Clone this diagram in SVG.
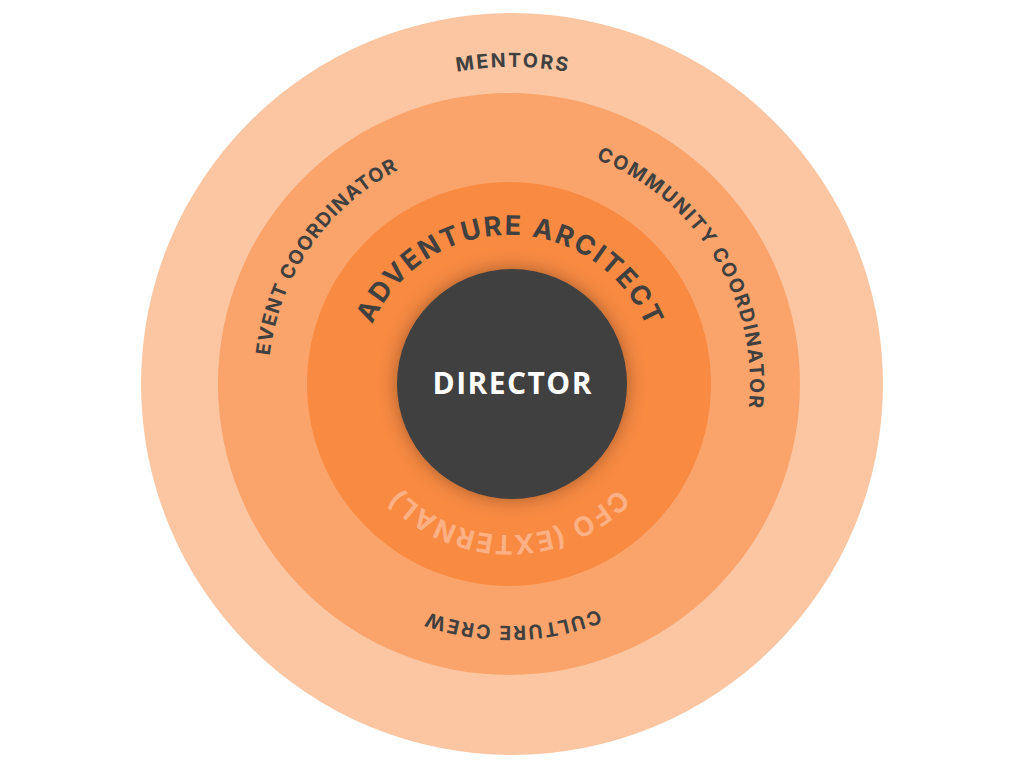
<svg xmlns="http://www.w3.org/2000/svg" xmlns:xlink="http://www.w3.org/1999/xlink" width="1024" height="768" viewBox="0 0 1024 768">
  <style>
    .lbl { font-family: Inter, "Open Sans", "Liberation Sans", sans-serif; font-weight: 700; fill: #404040; }
    .sm { font-size: 19.5px; }
    .lg { font-size: 27px; }
    .faint { fill: #FCB083; }
    .dir { font-family: "Open Sans", Inter, "Liberation Sans", sans-serif; font-weight: 700; font-size: 30px; fill: #FFFFFF; }
  </style>
  <defs>
    <filter id="shadow" x="-30%" y="-30%" width="160%" height="160%">
      <feDropShadow dx="0" dy="0" stdDeviation="9" flood-color="#000000" flood-opacity="0.35"/>
    </filter>
    <path id="pMentors" d="M512,701 A317,317 0 1 1 512,67 A317,317 0 1 1 512,701"/>
    <path id="pRing2Top" d="M509,625 A241,241 0 1 1 509,143 A241,241 0 1 1 509,625"/>
    <path id="pRing2Bot" d="M509,142 A242,242 0 1 1 509,626 A242,242 0 1 1 509,142"/>
    <path id="pRing3Top" d="M509,533 A149,149 0 1 1 509,235 A149,149 0 1 1 509,533"/>
    <path id="pRing3Bot" d="M509,233 A151,151 0 1 1 509,535 A151,151 0 1 1 509,233"/>
  </defs>
  <rect width="1024" height="768" fill="#FFFFFF"/>

  <g id="ring-mentors">
    <circle cx="512" cy="384" r="371" fill="#FBC6A1"/>
    <text class="lbl sm"><textPath xlink:href="#pMentors" href="#pMentors" startOffset="50%" text-anchor="middle" textLength="111" lengthAdjust="spacing">MENTORS</textPath></text>
  </g>

  <g id="ring-coordinators">
    <circle cx="509" cy="384" r="291" fill="#FAA46C"/>
    <text class="lbl sm"><textPath xlink:href="#pRing2Top" href="#pRing2Top" startOffset="34.64%" text-anchor="middle" textLength="235" lengthAdjust="spacing">EVENT COORDINATOR</textPath></text>
    <text class="lbl sm"><textPath xlink:href="#pRing2Top" href="#pRing2Top" startOffset="66.22%" text-anchor="middle" textLength="313" lengthAdjust="spacing">COMMUNITY COORDINATOR</textPath></text>
    <text class="lbl sm"><textPath xlink:href="#pRing2Bot" href="#pRing2Bot" startOffset="49.72%" text-anchor="middle" textLength="174" lengthAdjust="spacing">CULTURE CREW</textPath></text>
  </g>

  <g id="ring-core">
    <circle cx="509" cy="384" r="202" fill="#F88A42"/>
    <text class="lbl lg"><textPath xlink:href="#pRing3Top" href="#pRing3Top" startOffset="50.14%" text-anchor="middle" textLength="348" lengthAdjust="spacing">ADVENTURE ARCITECT</textPath></text>
    <text class="lbl lg faint"><textPath xlink:href="#pRing3Bot" href="#pRing3Bot" startOffset="50%" text-anchor="middle" textLength="244" lengthAdjust="spacing">CFO (EXTERNAL)</textPath></text>
  </g>

  <g id="director">
    <circle cx="512" cy="384" r="115" fill="#404040" filter="url(#shadow)"/>
    <text class="dir" x="512" y="394" text-anchor="middle" textLength="159" lengthAdjust="spacing">DIRECTOR</text>
  </g>

  <g id="connectors"/>
</svg>
